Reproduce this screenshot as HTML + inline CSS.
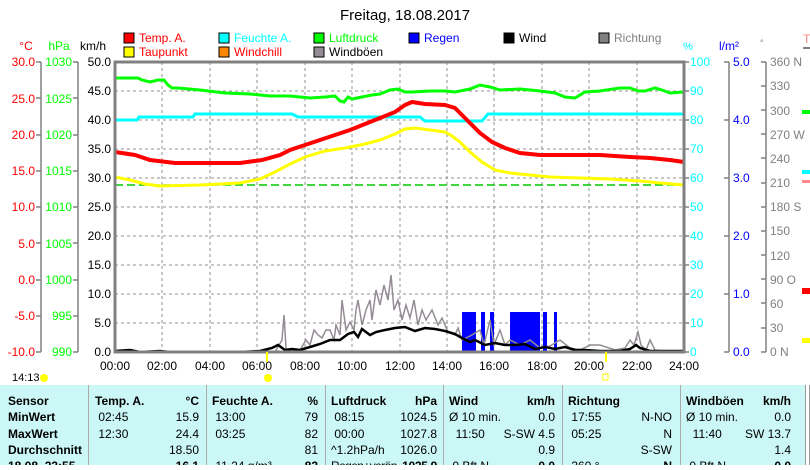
<!DOCTYPE html>
<html><head><meta charset="utf-8"><style>
body{margin:0;background:#fff;width:810px;height:465px;overflow:hidden;font-family:"Liberation Sans",sans-serif}
svg text{font-family:"Liberation Sans",sans-serif}
.c{position:absolute;top:8px;white-space:nowrap}
</style></head><body>
<svg width="810" height="465" viewBox="0 0 810 465" xmlns="http://www.w3.org/2000/svg">
<text x="405" y="20" font-size="15" text-anchor="middle">Freitag, 18.08.2017</text>
<g font-size="12">
<rect x="124" y="33" width="10" height="10" fill="#f00" stroke="#000"/><text x="139" y="42" fill="#f00">Temp. A.</text>
<rect x="124" y="47" width="10" height="10" fill="#ff0" stroke="#000"/><text x="139" y="56" fill="#f00">Taupunkt</text>
<rect x="219" y="33" width="10" height="10" fill="#0ff" stroke="#000"/><text x="234" y="42" fill="#0ff">Feuchte A.</text>
<rect x="219" y="47" width="10" height="10" fill="#f80" stroke="#000"/><text x="234" y="56" fill="#f00">Windchill</text>
<rect x="314" y="33" width="10" height="10" fill="#0f0" stroke="#000"/><text x="329" y="42" fill="#0f0">Luftdruck</text>
<rect x="314" y="47" width="10" height="10" fill="#948c94" stroke="#000"/><text x="329" y="56">Windböen</text>
<rect x="409" y="33" width="10" height="10" fill="#00f" stroke="#000"/><text x="424" y="42" fill="#00f">Regen</text>
<rect x="504" y="33" width="10" height="10" fill="#000" stroke="#000"/><text x="519" y="42">Wind</text>
<rect x="599" y="33" width="10" height="10" fill="#808080" stroke="#000"/><text x="614" y="42" fill="#808080">Richtung</text>
<text x="26" y="50" fill="#f00" text-anchor="middle">°C</text>
<text x="59" y="50" fill="#0f0" text-anchor="middle">hPa</text>
<text x="93" y="50" text-anchor="middle">km/h</text>
<text x="688" y="50" fill="#0ff" font-size="11" text-anchor="middle">%</text>
<text x="729" y="50" fill="#00f" text-anchor="middle">l/m²</text>
<text x="760" y="46" fill="#808080" font-size="9">°</text>
<text x="803" y="43" fill="#f88">T</text>
</g>
<g stroke="#808080" stroke-width="1.5">
<line x1="41" y1="62" x2="41" y2="352"/><line x1="78" y1="62" x2="78" y2="352"/>
<line x1="729" y1="62" x2="729" y2="352"/><line x1="766" y1="62" x2="766" y2="352"/>
</g>
<g stroke="#909090" stroke-dasharray="3,3" stroke-width="1">
<line x1="115" y1="91" x2="684" y2="91"/><line x1="115" y1="120" x2="684" y2="120"/><line x1="115" y1="149" x2="684" y2="149"/><line x1="115" y1="178" x2="684" y2="178"/><line x1="115" y1="207" x2="684" y2="207"/><line x1="115" y1="236" x2="684" y2="236"/><line x1="115" y1="265" x2="684" y2="265"/><line x1="115" y1="294" x2="684" y2="294"/><line x1="115" y1="323" x2="684" y2="323"/>
<line x1="162" y1="62" x2="162" y2="352"/><line x1="210" y1="62" x2="210" y2="352"/><line x1="257" y1="62" x2="257" y2="352"/><line x1="305" y1="62" x2="305" y2="352"/><line x1="352" y1="62" x2="352" y2="352"/><line x1="400" y1="62" x2="400" y2="352"/><line x1="447" y1="62" x2="447" y2="352"/><line x1="494" y1="62" x2="494" y2="352"/><line x1="542" y1="62" x2="542" y2="352"/><line x1="589" y1="62" x2="589" y2="352"/><line x1="637" y1="62" x2="637" y2="352"/>
</g>
<g font-size="12">
<g fill="#f00" text-anchor="end">
<text x="35" y="66">30.0</text><text x="35" y="103">25.0</text><text x="35" y="139">20.0</text><text x="35" y="175">15.0</text><text x="35" y="211">10.0</text><text x="35" y="248">5.0</text><text x="35" y="284">0.0</text><text x="35" y="320">-5.0</text><text x="35" y="356">-10.0</text>
</g>
<g fill="#0f0" text-anchor="end">
<text x="72" y="66">1030</text><text x="72" y="103">1025</text><text x="72" y="139">1020</text><text x="72" y="175">1015</text><text x="72" y="211">1010</text><text x="72" y="248">1005</text><text x="72" y="284">1000</text><text x="72" y="320">995</text><text x="72" y="356">990</text>
</g>
<g text-anchor="end">
<text x="111" y="66">50.0</text><text x="111" y="95">45.0</text><text x="111" y="124">40.0</text><text x="111" y="153">35.0</text><text x="111" y="182">30.0</text><text x="111" y="211">25.0</text><text x="111" y="240">20.0</text><text x="111" y="269">15.0</text><text x="111" y="298">10.0</text><text x="111" y="327">5.0</text><text x="111" y="356">0.0</text>
</g>
<g fill="#0ff">
<text x="690" y="66">100</text><text x="690" y="95">90</text><text x="690" y="124">80</text><text x="690" y="153">70</text><text x="690" y="182">60</text><text x="690" y="211">50</text><text x="690" y="240">40</text><text x="690" y="269">30</text><text x="690" y="298">20</text><text x="690" y="327">10</text><text x="690" y="356">0</text>
</g>
<g fill="#00f">
<text x="733" y="66">5.0</text><text x="733" y="124">4.0</text><text x="733" y="182">3.0</text><text x="733" y="240">2.0</text><text x="733" y="298">1.0</text><text x="733" y="356">0.0</text>
</g>
<g fill="#808080">
<text x="770" y="66">360 N</text><text x="770" y="90">330</text><text x="770" y="115">300</text><text x="770" y="139">270 W</text><text x="770" y="163">240</text><text x="770" y="187">210</text><text x="770" y="211">180 S</text><text x="770" y="235">150</text><text x="770" y="260">120</text><text x="770" y="284">90  O</text><text x="770" y="308">60</text><text x="770" y="332">30</text><text x="770" y="356">0    N</text>
</g>
<g text-anchor="middle">
<text x="115" y="370">00:00</text><text x="162" y="370">02:00</text><text x="210" y="370">04:00</text><text x="257" y="370">06:00</text><text x="305" y="370">08:00</text><text x="352" y="370">10:00</text><text x="400" y="370">12:00</text><text x="447" y="370">14:00</text><text x="494" y="370">16:00</text><text x="542" y="370">18:00</text><text x="589" y="370">20:00</text><text x="637" y="370">22:00</text><text x="684" y="370">24:00</text>
</g>
</g>
<g stroke="#808080" stroke-width="1.5">
<path d="M36 62h5M36 98h5M36 135h5M36 171h5M36 207h5M36 243h5M36 280h5M36 316h5M36 352h5"/>
<path d="M73 62h5M73 98h5M73 135h5M73 171h5M73 207h5M73 243h5M73 280h5M73 316h5M73 352h5"/>
<path d="M684 62h5M684 91h5M684 120h5M684 149h5M684 178h5M684 207h5M684 236h5M684 265h5M684 294h5M684 323h5M684 352h5"/>
<path d="M724 62h5M724 120h5M724 178h5M724 236h5M724 294h5M724 352h5"/>
<path d="M761 62h5M761 86h5M761 110h5M761 134h5M761 158h5M761 183h5M761 207h5M761 231h5M761 255h5M761 279h5M761 303h5M761 328h5M761 352h5"/>
</g>
<line x1="115" y1="185" x2="684" y2="185" stroke="#0c0" stroke-dasharray="8,4" stroke-width="1.5"/>
<g fill="#00f">
<rect x="462" y="312" width="14" height="40"/><rect x="481" y="312" width="4" height="40"/><rect x="490" y="312" width="4" height="40"/><rect x="510" y="312" width="30" height="40"/><rect x="543" y="312" width="4" height="40"/><rect x="554" y="312" width="3" height="40"/>
</g>
<polyline fill="none" stroke="#948c94" stroke-width="1.5" points="255,352 275,352 282,340 284,315 286,348 292,352 300,350 306,340 310,345 314,330 318,335 322,338 326,330 330,330 334,340 336,325 340,335 342,300 346,330 350,322 354,330 356,310 358,300 362,325 366,310 370,300 372,320 376,290 380,305 384,285 388,300 391,275 394,310 398,300 402,320 406,305 410,318 414,300 418,325 422,310 426,320 432,310 438,325 442,318 448,332 455,335 458,328 462,340 470,336 480,330 484,345 490,320 494,345 500,330 505,345 510,340 520,345 530,340 540,348 550,346 560,340 570,348 580,350 590,345 600,345 615,350 625,348 630,340 634,345 638,332 641,345 646,350 650,340 655,350 670,352 684,352"/>
<polyline fill="none" stroke="#000" stroke-width="2.5" points="115,351 130,350 140,352 160,351 170,352 200,352 240,352 260,351 272,348 278,345 285,350 292,349 300,350 310,347 320,344 330,340 340,340 348,334 354,332 358,337 362,329 370,335 376,332 385,330 395,328 405,327 415,331 425,328 435,329 445,331 455,334 462,338 470,342 475,340 485,345 495,343 505,345 515,345 525,344 535,349 545,347 555,349 565,347 575,350 585,350 600,351 620,351 630,349 636,345 640,348 650,351 684,351"/>
<line x1="115" y1="352" x2="684" y2="352" stroke="#00f" stroke-width="1.5"/>
<polyline fill="none" stroke="#0ff" stroke-width="3" points="115,120 137,120 139,117 193,117 195,114 292,114 298,117 420,117 425,121 482,121 488,114 684,114"/>
<polyline fill="none" stroke="#0f0" stroke-width="3" points="115,78 138,78 142,80 150,82 158,80 164,80 168,85 172,88 178,88 200,90 225,93 250,94 270,96 290,96 310,98 325,97 335,96 340,101 344,102 348,97 352,99 362,97 372,95 380,94 390,90 398,89 405,92 412,92 430,91 445,91 455,92 470,89 480,85 490,87 500,90 520,89 540,91 555,93 565,97 575,98 585,92 600,91 620,88 630,88 638,91 645,91 655,88 662,90 670,93 684,92"/>
<polyline fill="none" stroke="#ff0" stroke-width="3" points="115,177 130,180 145,184 160,186 200,185 240,183 260,179 275,172 290,164 305,157 325,151 345,148 365,144 380,140 395,134 405,129 415,128 430,130 445,132 452,136 460,142 470,152 482,162 495,170 510,173 530,175 550,177 580,178 610,179 640,181 660,183 684,185"/>
<polyline fill="none" stroke="#f00" stroke-width="4" points="115,152 135,155 150,160 175,163 240,163 262,160 280,155 290,150 305,145 320,140 335,135 350,130 365,124 380,118 395,112 405,105 412,102 425,104 445,105 455,108 462,115 470,123 480,133 492,142 505,148 520,153 540,155 600,155 630,157 650,158 670,160 684,162"/>
<rect x="115" y="62" width="569" height="290" fill="none" stroke="#808080" stroke-width="3"/>
<rect x="266" y="352" width="2" height="10" fill="#ff0"/>
<circle cx="268" cy="378" r="4" fill="#ff0"/>
<rect x="605" y="352" width="2" height="10" fill="#ff0"/>
<rect x="603" y="374" width="5" height="6" fill="none" stroke="#ff0"/>
<text x="12" y="381" font-size="11">14:13</text>
<circle cx="44" cy="378" r="4" fill="#ff0"/>
<rect x="802" y="110" width="8" height="4" fill="#0f0"/><rect x="802" y="170" width="8" height="4" fill="#0ff"/><rect x="802" y="180" width="8" height="3" fill="#f88"/><rect x="802" y="288" width="8" height="6" fill="#f00"/><rect x="802" y="338" width="8" height="5" fill="#ff0"/>
<rect x="803" y="47" width="7" height="2" fill="#808080"/>
</svg>
<div style="position:absolute;left:0;top:385px;width:805px;height:80px;background:#ccf7f7"></div>
<div style="position:absolute;left:805px;top:385px;width:3px;height:80px;background:#fff;border-left:1px solid #999;border-right:1px solid #999"></div>
<div style="position:absolute;left:0;top:385px;width:805px;height:80px;font-size:12px;line-height:16.3px;overflow:hidden">
<div class="c" style="left:8px;font-weight:bold">Sensor<br>MinWert<br>MaxWert<br>Durchschnitt<br>18.08. 23:55</div>
<div style="position:absolute;left:88px;top:0;width:1px;height:80px;background:#aaa"></div>
<div style="position:absolute;left:206px;top:0;width:1px;height:80px;background:#aaa"></div>
<div style="position:absolute;left:325px;top:0;width:1px;height:80px;background:#aaa"></div>
<div style="position:absolute;left:443px;top:0;width:1px;height:80px;background:#aaa"></div>
<div style="position:absolute;left:562px;top:0;width:1px;height:80px;background:#aaa"></div>
<div style="position:absolute;left:680px;top:0;width:1px;height:80px;background:#aaa"></div>
<div class="c" style="left:95px;width:104px"><b>Temp. A.</b><b style="float:right">°C</b><br>&nbsp;02:45<span style="float:right">15.9</span><br>&nbsp;12:30<span style="float:right">24.4</span><br><span style="float:right">18.50</span><br>&nbsp;<b style="float:right">16.1</b></div>
<div class="c" style="left:212px;width:106px"><b>Feuchte A.</b><b style="float:right">%</b><br>&nbsp;13:00<span style="float:right">79</span><br>&nbsp;03:25<span style="float:right">82</span><br>&nbsp;<span style="float:right">81</span><br>&nbsp;11.24 g/m³<b style="float:right">82</b></div>
<div class="c" style="left:331px;width:106px"><b>Luftdruck</b><b style="float:right">hPa</b><br>&nbsp;08:15<span style="float:right">1024.5</span><br>&nbsp;00:00<span style="float:right">1027.8</span><br>^1.2hPa/h<span style="float:right">1026.0</span><br><span style="letter-spacing:-0.6px">Regen+verän</span><b style="position:absolute;right:0;letter-spacing:-0.3px">1025.9</b></div>
<div class="c" style="left:449px;width:106px"><b>Wind</b><b style="float:right">km/h</b><br>Ø 10 min.<span style="float:right">0.0</span><br>&nbsp;&nbsp;11:50<span style="float:right">S-SW 4.5</span><br>&nbsp;<span style="float:right">0.9</span><br>&nbsp;0 Bft N<b style="float:right">0.0</b></div>
<div class="c" style="left:568px;width:104px"><b>Richtung</b><br>&nbsp;17:55<span style="float:right">N-NO</span><br>&nbsp;05:25<span style="float:right">N</span><br>&nbsp;<span style="float:right">S-SW</span><br>&nbsp;360 °<b style="float:right">N</b></div>
<div class="c" style="left:686px;width:105px"><b>Windböen</b><b style="float:right">km/h</b><br>Ø 10 min.<span style="float:right">0.0</span><br>&nbsp;&nbsp;11:40<span style="float:right">SW 13.7</span><br>&nbsp;<span style="float:right">1.4</span><br>&nbsp;0 Bft N<b style="float:right">0.0</b></div>
</div>
</body></html>
